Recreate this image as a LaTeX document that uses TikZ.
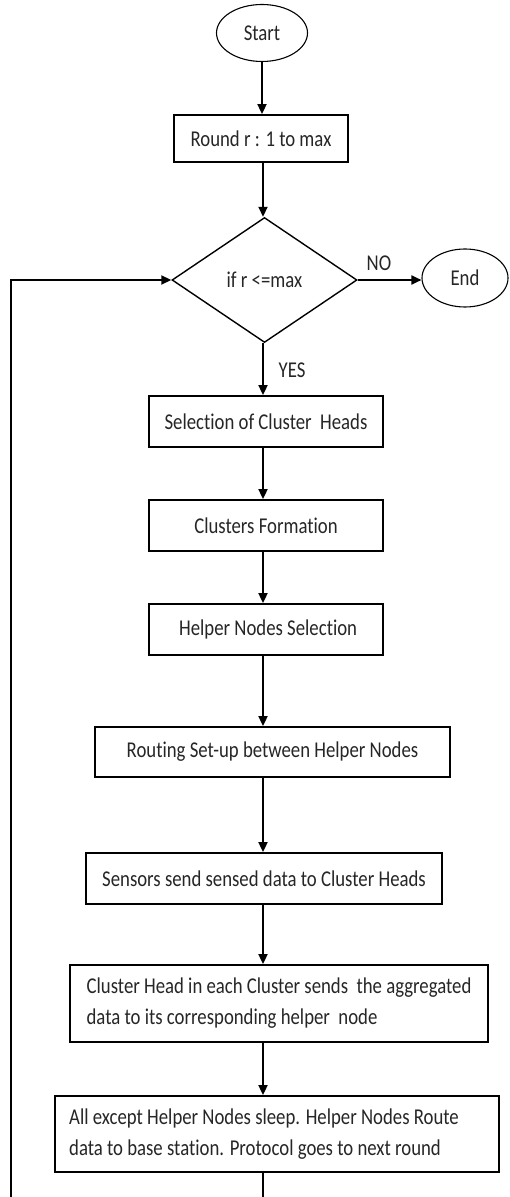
\documentclass[tikz,border=0pt]{standalone}
\usepackage{fontspec}
\setmainfont{Carlito}[FakeStretch=0.83, Ligatures={NoCommon}]
\usetikzlibrary{shapes.geometric,arrows.meta}
\definecolor{ink}{HTML}{262626}
\begin{document}
\begin{tikzpicture}[x=0.5pt,y=-0.5pt,
  every node/.style={font=\fontsize{11.3}{15.5}\selectfont, text=ink},
  boxnode/.style={draw=black, line width=0.9pt, rectangle, inner sep=0pt, align=center},
  wide/.style={draw=black, line width=0.9pt, rectangle, inner sep=0pt, align=left},
  oval/.style={draw=black, line width=0.55pt, ellipse, inner sep=0pt},
  decide/.style={draw=black, line width=0.7pt, diamond, inner sep=0pt, aspect=1.48},
  arr/.style={draw=black, line width=0.9pt, -{Triangle[length=5pt,width=4.5pt]}},
  lbl/.style={inner sep=0pt}
]
\useasboundingbox (0,0) rectangle (509,1197);
\clip (0,0) rectangle (509,1197);

\coordinate (ax) at (263,0);
\coordinate (lb) at (11,1215);

\node[oval, minimum width=45.5pt, minimum height=28.5pt] (start) at (262,33) {Start};
\node[boxnode, minimum width=87pt, minimum height=23.5pt] (round) at (261,138.5) {Round r : 1 to max};
\node[decide, minimum width=92.5pt, minimum height=62.5pt] (dec) at (264.5,280) {if r <=max};
\node[oval, minimum width=43pt, minimum height=29pt] (end) at (465,278) {End};
\node[boxnode, minimum width=117pt, minimum height=25.5pt] (sel) at (266,421.5) {Selection of Cluster\ \ Heads};
\node[boxnode, minimum width=117pt, minimum height=25.5pt] (clus) at (266,525.5) {Clusters Formation};
\node[boxnode, minimum width=117pt, minimum height=25.5pt] (help) at (266,629.5) {\ Helper Nodes Selection};
\node[boxnode, minimum width=177.5pt, minimum height=25pt] (route) at (272.5,752) {Routing Set-up between Helper Nodes};
\node[boxnode, minimum width=178pt, minimum height=25.5pt] (sens) at (264,878.5) {Sensors send sensed data to Cluster Heads};
\node[wide, minimum width=209pt, minimum height=38.5pt] (ch) at (279,1003.5) {Cluster Head in each Cluster sends\ \ the aggregated\\data to its corresponding helper\ \ node};
\node[wide, minimum width=222pt, minimum height=38pt] (all) at (277,1134) {All except Helper Nodes sleep. Helper Nodes Route\hspace*{13pt}\\data to base station. Protocol goes to next round\hspace*{13pt}};

\node[lbl] (no) at (379,263) {NO};
\node[lbl] (yes) at (292,370) {YES};

\draw[arr] (start.south) -- (start.south |- round.north);
\draw[arr] (round.south -| ax) -- (ax |- dec.north);
\draw[arr] (dec.east) -- (end.west |- dec.east);
\draw[arr] (dec.south -| ax) -- (ax |- sel.north);
\draw[arr] (sel.south -| ax) -- (ax |- clus.north);
\draw[arr] (clus.south -| ax) -- (ax |- help.north);
\draw[arr] (help.south -| ax) -- (ax |- route.north);
\draw[arr] (route.south -| ax) -- (ax |- sens.north);
\draw[arr] (sens.south -| ax) -- (ax |- ch.north);
\draw[arr] (ch.south -| ax) -- (ax |- all.north);
\draw[arr] (all.south -| ax) -- (ax |- lb) -- (lb) |- (dec.west);
\end{tikzpicture}
\end{document}
